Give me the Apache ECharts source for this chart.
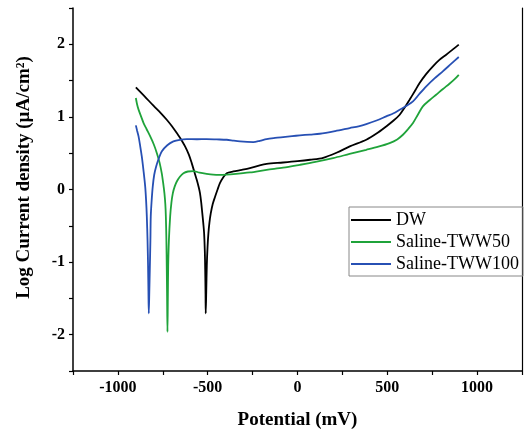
<!DOCTYPE html>
<html><head><meta charset="utf-8">
<script src="https://cdn.jsdelivr.net/npm/echarts@6/dist/echarts.min.js"></script>
<style>html,body{margin:0;padding:0;background:#fff}#c{width:524px;height:430px}</style>
</head><body><div id="c"></div>
<script>
var seriesNames = ['DW', 'Saline-TWW50', 'Saline-TWW100'];
var dwData = [[-900,1.407],[-850,1.28],[-802,1.154],[-760,1.05],[-728,0.961],[-700,0.875],[-672,0.777],[-648,0.69],[-626,0.593],[-605,0.48],[-589,0.363],[-574,0.24],[-561,0.133],[-550,0.03],[-543,-0.05],[-536,-0.18],[-530,-0.33],[-524,-0.48],[-520,-0.60],[-516,-0.85],[-514,-1.1],[-512,-1.45],[-511,-1.706],[-508,-1.4],[-505,-1.05],[-501,-0.8],[-496,-0.60],[-490,-0.45],[-483,-0.33],[-472,-0.2],[-459,-0.10],[-445,0.0],[-432,0.087],[-414,0.165],[-394,0.225],[-357,0.248],[-310,0.27],[-265,0.294],[-215,0.33],[-172,0.354],[-80,0.372],[0,0.39],[70,0.41],[143,0.437],[220,0.51],[291,0.593],[383,0.685],[440,0.77],[494,0.869],[535,0.95],[569,1.03],[597,1.13],[624,1.237],[652,1.35],[680,1.467],[716,1.59],[754,1.697],[790,1.785],[828,1.857],[865,1.93],[898,1.995]];
var tww50Data = [[-900,1.26],[-893,1.17],[-885,1.10],[-870,1.00],[-857,0.915],[-840,0.83],[-820,0.731],[-800,0.62],[-783,0.50],[-768,0.37],[-756,0.225],[-748,0.09],[-741,-0.05],[-736,-0.2],[-733,-0.37],[-730,-0.7],[-728,-1.06],[-726,-1.5],[-724,-1.96],[-722,-1.5],[-720,-1.06],[-716,-0.7],[-709,-0.37],[-702,-0.18],[-694,-0.05],[-684,0.04],[-672,0.11],[-655,0.175],[-635,0.225],[-610,0.248],[-580,0.253],[-545,0.232],[-506,0.216],[-470,0.205],[-432,0.202],[-395,0.205],[-357,0.211],[-265,0.235],[-172,0.271],[-80,0.3],[13,0.34],[100,0.38],[198,0.432],[290,0.49],[383,0.547],[450,0.59],[513,0.64],[555,0.69],[587,0.754],[615,0.83],[643,0.915],[670,1.03],[698,1.145],[735,1.23],[772,1.306],[810,1.385],[846,1.457],[875,1.52],[898,1.58]];
var tww100Data = [[-900,0.883],[-893,0.81],[-885,0.731],[-876,0.6],[-867,0.455],[-857,0.25],[-848,0.04],[-843,-0.15],[-839,-0.37],[-835,-0.7],[-832,-1.06],[-830,-1.4],[-828,-1.706],[-825,-1.4],[-822,-1.06],[-819,-0.7],[-817,-0.37],[-812,-0.15],[-806,0.04],[-798,0.2],[-787,0.317],[-772,0.43],[-756,0.524],[-725,0.61],[-691,0.662],[-655,0.685],[-617,0.694],[-560,0.692],[-506,0.694],[-450,0.69],[-394,0.685],[-355,0.672],[-320,0.662],[-280,0.655],[-246,0.653],[-210,0.67],[-172,0.694],[-125,0.71],[-80,0.722],[-30,0.735],[13,0.745],[70,0.757],[124,0.768],[210,0.805],[291,0.846],[340,0.87],[383,0.90],[440,0.95],[494,1.007],[535,1.05],[569,1.099],[605,1.15],[643,1.214],[680,1.32],[717,1.42],[763,1.53],[809,1.628],[855,1.73],[898,1.825]];
var xTickLabels = [-1000, -500, 0, 500, 1000];
var yTickLabels = [-2, -1, 0, 1, 2];
var colors = ['#000000', '#1fa33a', '#2750b4'];

var chart = echarts.init(document.getElementById('c'), null, {renderer: 'canvas'});
var serif = '"Liberation Serif", "Times New Roman", serif';
var axisCommon = {
  axisLine: {show: true, onZero: false, lineStyle: {color: '#000', width: 1.5}},
  axisTick: {show: true, inside: false, length: 4, lineStyle: {color: '#000', width: 1.2}},
  splitLine: {show: false}
};
var option = {
  backgroundColor: '#fff',
  animation: false,
  grid: {left: 73, right: 2, top: 8, bottom: 59, containLabel: false, outerBoundsMode: 'none'},
  legend: {
    orient: 'vertical', left: 349, top: 207,
    data: seriesNames,
    icon: 'rect', itemWidth: 40, itemHeight: 2, itemGap: 4,
    borderColor: '#888', borderWidth: 1, padding: [4, 4, 3, 2],
    textStyle: {fontFamily: serif, fontSize: 18, color: '#000', padding: [0, 0, 0, 0]}
  },
  xAxis: [Object.assign({}, axisCommon, {
    type: 'value', min: -1250, max: 1250, interval: 250,
    name: 'Potential (mV)', nameLocation: 'middle', nameGap: 40,
    nameTextStyle: {fontFamily: serif, fontSize: 19, fontWeight: 'bold', color: '#000'},
    axisLabel: {fontFamily: serif, fontSize: 16, fontWeight: 'bold', color: '#000', margin: 9,
      formatter: function (v) { return xTickLabels.indexOf(v) >= 0 ? String(v) : ''; }}
  })],
  yAxis: [Object.assign({}, axisCommon, {
    type: 'value', min: -2.5, max: 2.5, interval: 0.5,
    name: 'Log Current density (\u00b5A/cm\u00b2)', nameLocation: 'middle', nameGap: 39,
    nameTextStyle: {fontFamily: serif, fontSize: 19, fontWeight: 'bold', color: '#000', padding: [0, 0, 0, 24]},
    axisLabel: {fontFamily: serif, fontSize: 16, fontWeight: 'bold', color: '#000', margin: 8,
      formatter: function (v) { return yTickLabels.indexOf(v) >= 0 ? String(v) : ''; }}
  }), {
    type: 'value', position: 'right', min: -2.5, max: 2.5,
    axisLine: {show: true, onZero: false, lineStyle: {color: '#000', width: 1.2}},
    axisTick: {show: false}, axisLabel: {show: false}, splitLine: {show: false}
  }],
  series: [
    {name: seriesNames[0], type: 'line', data: dwData, showSymbol: false, smooth: 0.3, lineStyle: {color: colors[0], width: 1.8}, itemStyle: {color: colors[0]}},
    {name: seriesNames[1], type: 'line', data: tww50Data, showSymbol: false, smooth: 0.3, lineStyle: {color: colors[1], width: 1.8}, itemStyle: {color: colors[1]}},
    {name: seriesNames[2], type: 'line', data: tww100Data, showSymbol: false, smooth: 0.3, lineStyle: {color: colors[2], width: 1.8}, itemStyle: {color: colors[2]}}
  ]
};
chart.setOption(option);
</script>
</body></html>
